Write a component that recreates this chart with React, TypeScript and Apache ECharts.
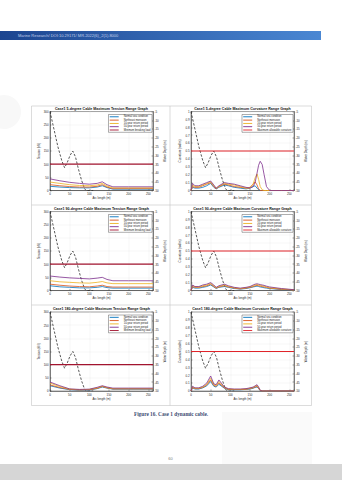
import React, { useEffect, useRef } from "react";
import * as echarts from "echarts";

// ---------- data ----------
const caseNames = ["Normal sea condition", "Northeast monsoon", "10-year return period", "50-year return period"];
const tensionLimitName = "Minimum breaking load";
const curvatureLimitName = "Maximum allowable curvature";
const minBreakingLoad = 100;
const maxAllowableCurvature = 0.5;

const xTicks = [0, 50, 100, 150, 200, 250];
const arcMax = 262;

// cable depth profile (right axis)
const profileArc = [0, 10, 20, 30, 37, 44, 51, 58, 65, 72, 80, 88, 92, 110];
const profileDepth = [-5, -15, -25, -33, -37, -34, -30, -27.5, -31, -37.5, -44, -49, -50, -50];

// tension (kN)
const tensionArc = [0, 25, 50, 75, 100, 120, 133, 145, 160, 200, 262];
const tension5Normal = [16, 13, 11, 10, 10, 13, 18, 11, 5, 5, 5];
const tension5Northeast = [22, 18, 15, 13, 13, 16, 22, 13, 7, 7, 7];
const tension5Ten = [32, 27, 22, 19, 18, 21, 27, 17, 10, 10, 10];
const tension5Fifty = [44, 37, 31, 27, 24, 27, 33, 22, 14, 14, 14];

const tension90Normal = [18, 14, 12, 10, 10, 12, 15, 11, 9, 9, 9];
const tension90Northeast = [24, 20, 17, 15, 14, 17, 20, 15, 13, 13, 13];
const tension90Ten = [37, 33, 31, 29, 28, 31, 34, 29, 26, 26, 26];
const tension90Fifty = [55, 51, 48, 46, 44, 47, 50, 42, 37, 37, 37];

const tension180Normal = [20, 11, 5, 3, 4, 9, 15, 11, 7, 7, 7];
const tension180Northeast = [23, 13, 6, 4, 5, 10, 17, 12, 8, 8, 8];
const tension180Ten = [30, 17, 7, 5, 6, 12, 18, 13, 9, 9, 9];
const tension180Fifty = [34, 20, 8, 6, 7, 14, 20, 15, 11, 11, 11];

// curvature (rad/m)
const curvatureArc = [0, 4, 10, 20, 30, 40, 50, 58, 64, 71, 85, 95, 110, 125, 140, 150, 158, 163, 168, 172, 176, 181, 186, 192, 200, 230, 262];
const curv5Normal = [0, 0.04, 0.03, 0.03, 0.04, 0.06, 0.09, 0.04, 0.02, 0.04, 0.07, 0.06, 0.04, 0.03, 0.02, 0.03, 0.05, 0.06, 0.03, 0.01, 0, 0, 0, 0, 0, 0, 0];
const curv5Northeast = [0, 0.05, 0.04, 0.04, 0.06, 0.08, 0.1, 0.05, 0.02, 0.05, 0.08, 0.07, 0.05, 0.04, 0.03, 0.04, 0.08, 0.11, 0.07, 0.02, 0, 0, 0, 0, 0, 0, 0];
const curv5Ten = [0, 0.07, 0.05, 0.05, 0.07, 0.09, 0.11, 0.06, 0.03, 0.05, 0.09, 0.08, 0.07, 0.05, 0.03, 0.03, 0.08, 0.16, 0.21, 0.14, 0.05, 0.01, 0, 0, 0, 0, 0];
const curv5Fifty = [0, 0.09, 0.06, 0.06, 0.08, 0.1, 0.12, 0.07, 0.03, 0.06, 0.1, 0.09, 0.08, 0.06, 0.04, 0.03, 0.05, 0.1, 0.22, 0.32, 0.37, 0.33, 0.2, 0.05, 0, 0, 0];

const curv90Normal = [0, 0.04, 0.03, 0.03, 0.04, 0.05, 0.07, 0.045, 0.025, 0.04, 0.05, 0.04, 0.025, 0.018, 0.025, 0.035, 0.045, 0.05, 0.055, 0.05, 0.045, 0.04, 0.035, 0.03, 0.025, 0.012, 0.005];
const curv90Northeast = [0, 0.05, 0.04, 0.04, 0.05, 0.06, 0.08, 0.05, 0.03, 0.045, 0.06, 0.045, 0.03, 0.02, 0.03, 0.04, 0.05, 0.06, 0.065, 0.06, 0.055, 0.05, 0.045, 0.04, 0.03, 0.015, 0.006];
const curv90Ten = [0, 0.06, 0.045, 0.045, 0.06, 0.07, 0.09, 0.06, 0.035, 0.05, 0.07, 0.05, 0.035, 0.025, 0.035, 0.045, 0.06, 0.07, 0.075, 0.07, 0.065, 0.06, 0.055, 0.045, 0.035, 0.02, 0.008];
const curv90Fifty = [0, 0.07, 0.05, 0.05, 0.07, 0.08, 0.1, 0.07, 0.04, 0.06, 0.08, 0.06, 0.04, 0.03, 0.04, 0.05, 0.07, 0.08, 0.085, 0.08, 0.075, 0.07, 0.065, 0.055, 0.045, 0.025, 0.01];

const curv180Normal = [0, 0.04, 0.025, 0.025, 0.04, 0.065, 0.12, 0.06, 0.05, 0.085, 0.035, 0.018, 0.015, 0.015, 0.02, 0.025, 0.035, 0.045, 0.05, 0.03, 0.005, 0, 0, 0, 0, 0, 0];
const curv180Northeast = [0, 0.045, 0.03, 0.03, 0.045, 0.075, 0.14, 0.07, 0.06, 0.1, 0.04, 0.02, 0.018, 0.018, 0.022, 0.03, 0.04, 0.05, 0.06, 0.035, 0.006, 0, 0, 0, 0, 0, 0];
const curv180Ten = [0, 0.05, 0.035, 0.035, 0.05, 0.085, 0.16, 0.08, 0.07, 0.12, 0.045, 0.025, 0.02, 0.02, 0.025, 0.035, 0.045, 0.06, 0.07, 0.04, 0.008, 0, 0, 0, 0, 0, 0];
const curv180Fifty = [0, 0.06, 0.04, 0.04, 0.06, 0.1, 0.19, 0.09, 0.08, 0.14, 0.05, 0.03, 0.025, 0.025, 0.03, 0.04, 0.05, 0.065, 0.08, 0.05, 0.01, 0, 0, 0, 0, 0, 0];

// ---------- styling ----------
const caseColors = ["#0072BD", "#D95319", "#EDB120", "#7E2F8E"];
const FONT = "'Liberation Sans', Arial, sans-serif";
const AXIS = "#262626";

const rowTops = [111.5, 211.5, 312];
const plotH = 79;
const colLeft = [50, 191];
const plotW = 103;

type Panel = {
  title: string;
  kind: "tension" | "curvature";
  row: number;
  col: number;
  values: number[][];
};

const panels: Panel[] = [
  { title: "Case1 5-degree Cable Maximum Tension Range Graph", kind: "tension", row: 0, col: 0, values: [tension5Normal, tension5Northeast, tension5Ten, tension5Fifty] },
  { title: "Case1 5-degree Cable Maximum Curvature Range Graph", kind: "curvature", row: 0, col: 1, values: [curv5Normal, curv5Northeast, curv5Ten, curv5Fifty] },
  { title: "Case1 90-degree Cable Maximum Tension Range Graph", kind: "tension", row: 1, col: 0, values: [tension90Normal, tension90Northeast, tension90Ten, tension90Fifty] },
  { title: "Case1 90-degree Cable Maximum Curvature Range Graph", kind: "curvature", row: 1, col: 1, values: [curv90Normal, curv90Northeast, curv90Ten, curv90Fifty] },
  { title: "Case1 180-degree Cable Maximum Tension Range Graph", kind: "tension", row: 2, col: 0, values: [tension180Normal, tension180Northeast, tension180Ten, tension180Fifty] },
  { title: "Case1 180-degree Cable Maximum Curvature Range Graph", kind: "curvature", row: 2, col: 1, values: [curv180Normal, curv180Northeast, curv180Ten, curv180Fifty] },
];

function buildOption() {
  const grid: any[] = [];
  const xAxis: any[] = [];
  const yAxis: any[] = [];
  const series: any[] = [];
  const legend: any[] = [];
  const graphic: any[] = [];

  // page decorations
  graphic.push(
    { type: "circle", shape: { cx: 4, cy: 112, r: 17 }, style: { fill: "#f8f8f8" }, z: -10 },
    { type: "rect", shape: { x: 222, y: 412, width: 90, height: 52 }, style: { fill: "#fafafa" }, z: -10 },
    {
      type: "rect",
      shape: { x: 0, y: 31, width: 321, height: 9 },
      style: {
        fill: new echarts.graphic.LinearGradient(0, 0, 1, 0, [
          { offset: 0, color: "#1c4590" },
          { offset: 1, color: "#4a87d3" },
        ]),
      },
    },
    {
      type: "text",
      style: { text: "Marine Research/ DOI:10.29171/ MR.2022(6)_2(1).8000", x: 18, y: 35.5, fill: "#c2d0ea", font: `4px ${FONT}`, textVerticalAlign: "middle" },
    },
    { type: "rect", shape: { x: 31.5, y: 106, width: 280, height: 299.5 }, style: { fill: "none", stroke: "#c4c4c4", lineWidth: 0.6 }, z: -5 },
    { type: "line", shape: { x1: 170, y1: 106, x2: 170, y2: 405.5 }, style: { stroke: "#c4c4c4", lineWidth: 0.6 }, z: -5 },
    { type: "line", shape: { x1: 31.5, y1: 205, x2: 311.5, y2: 205 }, style: { stroke: "#c4c4c4", lineWidth: 0.6 }, z: -5 },
    { type: "line", shape: { x1: 31.5, y1: 305, x2: 311.5, y2: 305 }, style: { stroke: "#c4c4c4", lineWidth: 0.6 }, z: -5 },
    {
      type: "text",
      style: { text: "Figure 16. Case 1 dynamic cable.", x: 171, y: 414.3, fill: "#3d4a72", font: `bold 5.3px 'Liberation Serif', 'Times New Roman', serif`, textAlign: "center", textVerticalAlign: "middle" },
    },
    {
      type: "text",
      style: { text: "60", x: 170.5, y: 458.3, fill: "#808080", font: `4px ${FONT}`, textAlign: "center", textVerticalAlign: "middle" },
    },
    { type: "rect", shape: { x: 0, y: 464, width: 342, height: 16 }, style: { fill: "#d6d6d6" } }
  );

  panels.forEach((p, i) => {
    const left = colLeft[p.col];
    const top = rowTops[p.row];
    const isT = p.kind === "tension";
    const arc = isT ? tensionArc : curvatureArc;
    const limit = isT ? minBreakingLoad : maxAllowableCurvature;
    const limitName = isT ? tensionLimitName : curvatureLimitName;
    const limitColor = isT ? "#A2142F" : "#E0242A";

    grid.push({ left, top, width: plotW, height: plotH, show: true, borderColor: AXIS, borderWidth: 0.5, backgroundColor: "#fff", containLabel: false });

    xAxis.push({
      gridIndex: i,
      type: "value",
      min: 0,
      max: arcMax,
      interval: 50,
      name: "Arc length (m)",
      nameLocation: "middle",
      nameGap: 6,
      nameTextStyle: { fontSize: 2.9, color: AXIS, fontFamily: FONT },
      axisLine: { show: true, lineStyle: { color: AXIS, width: 0.5 } },
      axisTick: { show: true, inside: true, length: 1.5, lineStyle: { color: AXIS, width: 0.4 } },
      axisLabel: { fontSize: 2.9, color: AXIS, margin: 2, fontFamily: FONT, formatter: (v: number) => (xTicks.includes(v) ? String(v) : "") },
      splitLine: { show: true, lineStyle: { color: "#ebebeb", width: 0.4 } },
    });

    yAxis.push({
      gridIndex: i,
      type: "value",
      position: "left",
      min: 0,
      max: isT ? 300 : 1,
      interval: isT ? 50 : 0.1,
      name: isT ? "Tension (kN)" : "Curvature (rad/m)",
      nameLocation: "middle",
      nameGap: isT ? 6.8 : 7.6,
      nameTextStyle: { fontSize: 2.9, color: AXIS, fontFamily: FONT },
      axisLine: { show: true, lineStyle: { color: AXIS, width: 0.5 } },
      axisTick: { show: true, inside: true, length: 1.5, lineStyle: { color: AXIS, width: 0.4 } },
      axisLabel: { fontSize: 2.9, color: AXIS, margin: 1.5, fontFamily: FONT },
      splitLine: { show: true, lineStyle: { color: "#ebebeb", width: 0.4 } },
    });

    yAxis.push({
      gridIndex: i,
      type: "value",
      position: "right",
      min: -50,
      max: -5,
      interval: 5,
      name: "Water Depth (m)",
      nameLocation: "middle",
      nameGap: isT ? 10 : 10.5,
      nameTextStyle: { fontSize: 2.9, color: AXIS, fontFamily: FONT },
      axisLine: { show: true, lineStyle: { color: AXIS, width: 0.5 } },
      axisTick: { show: true, inside: true, length: 1.5, lineStyle: { color: AXIS, width: 0.4 } },
      axisLabel: { fontSize: 2.9, color: AXIS, margin: 1.5, fontFamily: FONT },
      splitLine: { show: false },
    });

    series.push({
      type: "line",
      name: "Water depth",
      xAxisIndex: i,
      yAxisIndex: 2 * i + 1,
      data: profileArc.map((x, k) => [x, profileDepth[k]]),
      symbol: "none",
      color: "#111",
      lineStyle: { color: "#111", width: 0.7, type: [2.4, 1.6] },
      z: 2,
    });

    p.values.forEach((vals, j) => {
      series.push({
        type: "line",
        name: caseNames[j],
        xAxisIndex: i,
        yAxisIndex: 2 * i,
        data: arc.map((x, k) => [x, vals[k]]),
        symbol: "none",
        color: caseColors[j],
        lineStyle: { color: caseColors[j], width: 0.8 },
        z: 3 + j,
      });
    });

    series.push({
      type: "line",
      name: limitName,
      xAxisIndex: i,
      yAxisIndex: 2 * i,
      data: [[0, limit], [arcMax, limit]],
      symbol: "none",
      color: limitColor,
      lineStyle: { color: limitColor, width: 1.2 },
      z: 8,
    });

    legend.push({
      orient: "vertical",
      right: 342 - (left + plotW) + 1,
      top: top + 3,
      data: [...caseNames, limitName],
      icon: "rect",
      itemWidth: 9,
      itemHeight: 0.9,
      itemGap: 0.3,
      padding: [0.8, 1.5, 0.8, 1.2],
      backgroundColor: "#fff",
      borderColor: "#333",
      borderWidth: 0.4,
      selectedMode: false,
      textStyle: { fontSize: 2.6, lineHeight: 3, color: "#222", fontFamily: FONT },
    });

    graphic.push({
      type: "text",
      style: {
        text: p.title,
        x: left + plotW / 2,
        y: top - 2.6,
        fill: "#111",
        font: `bold 3.6px ${FONT}`,
        textAlign: "center",
        textVerticalAlign: "middle",
      },
      z: 20,
    });
  });

  return {
    animation: false,
    backgroundColor: "#ffffff",
    textStyle: { fontFamily: FONT },
    grid,
    xAxis,
    yAxis,
    series,
    legend,
    graphic,
  };
}

export default function App() {
  const ref = useRef<HTMLDivElement>(null);
  useEffect(() => {
    if (!ref.current) return;
    const chart = echarts.init(ref.current, null, { renderer: "svg", width: 342, height: 480 });
    chart.setOption(buildOption() as any);
    return () => chart.dispose();
  }, []);
  return (
    <div
      ref={ref}
      style={{ position: "absolute", left: 0, top: 0, width: 342, height: 480, background: "#fff" }}
    />
  );
}
